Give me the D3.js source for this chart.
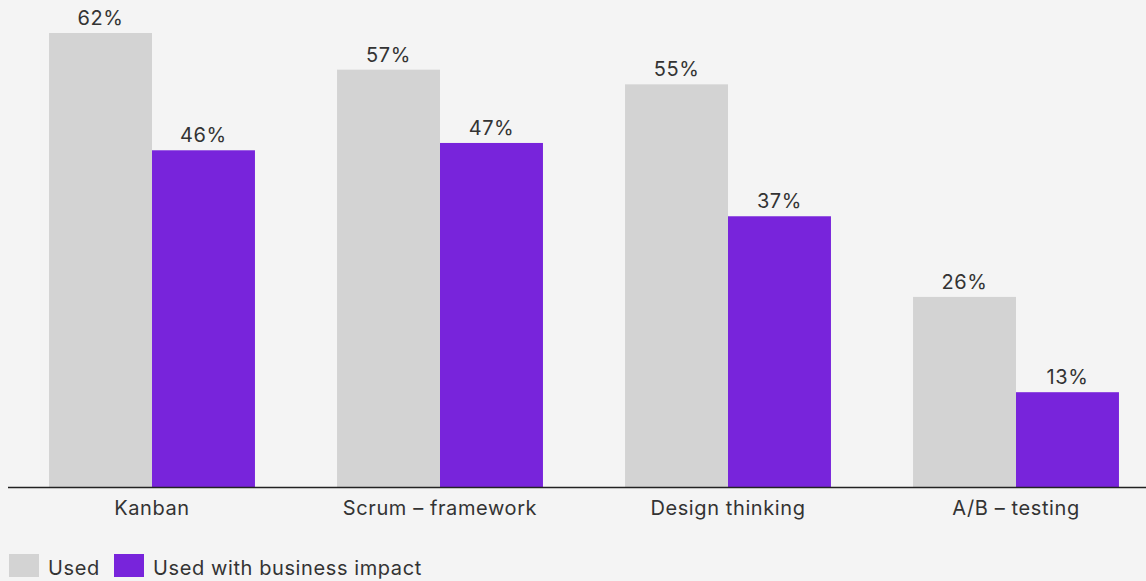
<!DOCTYPE html>
<html>
<head>
<meta charset="utf-8">
<script src="https://cdn.jsdelivr.net/npm/d3@7"></script>
<style>
    html, body { margin: 0; padding: 0; background: #f4f4f4; }
    svg { display: block; font-family: Inter, Roboto, sans-serif; letter-spacing: 0.6px; }
</style>
</head>
<body>
<div id="chart"></div>
<script>
const categories = ['Kanban', 'Scrum – framework', 'Design thinking', 'A/B – testing'];
const seriesNames = ['Used', 'Used with business impact'];
const usedValues = [62, 57, 55, 26];
const impactValues = [46, 47, 37, 13];
const seriesColors = ['#d3d3d3', '#7824db'];

const width = 1146;
const height = 581;
const baseline = 487.5;

const svg = d3.select('#chart')
    .append('svg')
    .attr('width', width)
    .attr('height', height);

svg.append('rect')
    .attr('width', width)
    .attr('height', height)
    .attr('fill', '#f4f4f4');

const x = d3.scaleBand()
    .domain(categories)
    .range([8, 1160])
    .paddingInner(0.285)
    .paddingOuter(0.1425);

const xSub = d3.scaleBand()
    .domain(seriesNames)
    .range([0, x.bandwidth()]);

const y = d3.scaleLinear()
    .domain([0, 62])
    .range([baseline, 33]);

const rows = categories.map((c, i) => ({
    category: c,
    values: [usedValues[i], impactValues[i]]
}));

const groups = svg.selectAll('g.group')
    .data(rows)
    .enter()
    .append('g')
    .attr('class', 'group')
    .attr('transform', d => `translate(${x(d.category)},0)`);

const bars = groups.selectAll('g.bar')
    .data(d => d.values.map((v, i) => ({ series: seriesNames[i], value: v, idx: i })))
    .enter()
    .append('g')
    .attr('class', 'bar');

bars.append('rect')
    .attr('x', d => xSub(d.series))
    .attr('y', d => y(d.value))
    .attr('width', xSub.bandwidth())
    .attr('height', d => baseline - y(d.value))
    .attr('fill', d => seriesColors[d.idx]);

bars.append('text')
    .attr('x', d => xSub(d.series) + xSub.bandwidth() / 2)
    .attr('y', d => y(d.value) - 8)
    .attr('text-anchor', 'middle')
    .attr('font-size', '20px')
    .attr('fill', '#333')
    .text(d => `${d.value}%`);

// baseline
svg.append('line')
    .attr('x1', 8)
    .attr('x2', width)
    .attr('y1', baseline)
    .attr('y2', baseline)
    .attr('stroke', '#222')
    .attr('stroke-width', 1.5);

// category labels
svg.selectAll('text.cat')
    .data(categories)
    .enter()
    .append('text')
    .attr('class', 'cat')
    .attr('x', d => x(d) + x.bandwidth() / 2)
    .attr('y', 515)
    .attr('text-anchor', 'middle')
    .attr('font-size', '20px')
    .attr('fill', '#333')
    .text(d => d);

// legend
const legendX = [9, 114];
const legend = svg.selectAll('g.legend')
    .data(seriesNames)
    .enter()
    .append('g')
    .attr('class', 'legend')
    .attr('transform', (d, i) => `translate(${legendX[i]},554)`);

legend.append('rect')
    .attr('width', 30)
    .attr('height', 23)
    .attr('fill', (d, i) => seriesColors[i]);

legend.append('text')
    .attr('x', 39)
    .attr('y', 21)
    .attr('font-size', '20px')
    .attr('fill', '#333')
    .text(d => d);
</script>
</body>
</html>
